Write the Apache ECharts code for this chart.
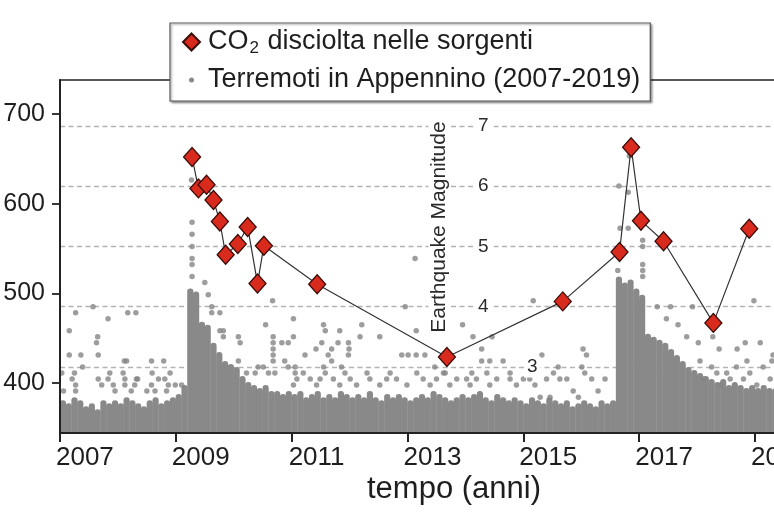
<!DOCTYPE html>
<html>
<head>
<meta charset="utf-8">
<script src="https://cdn.jsdelivr.net/npm/echarts@6/dist/echarts.min.js"></script>
<style>html,body{margin:0;padding:0;background:#fff}#c{width:774px;height:516px}</style>
</head>
<body>
<div id="c"></div>
<script>
// ---------------- DATA ----------------
const co2Name = 'CO2 disciolta nelle sorgenti';
const eqName = 'Terremoti in Appennino (2007-2019)';

// CO2 dissolved in springs (sampling date, value)
const co2Years = [2009.28, 2009.39, 2009.53, 2009.65, 2009.76, 2009.86, 2010.07, 2010.24, 2010.41, 2010.52,
                  2011.44, 2013.68, 2015.68, 2016.66, 2016.86, 2017.03, 2017.42, 2018.28, 2018.90];
const co2Values = [652, 617, 621, 604, 580, 543, 555, 574, 511, 553,
                   510, 429, 491, 546, 663, 581, 558, 467, 572];

// Dense part of the earthquake cloud: top magnitude of the filled band, one value per 0.1-year bin from 2007.0
const denseBandStart = 2007.0;
const denseBandStep = 0.1;
const denseBandTop = [
  2.45, 2.4, 2.5, 2.45, 2.35, 2.4, 2.3, 2.45, 2.4, 2.45,   // 2007
  2.4, 2.5, 2.45, 2.4, 2.35, 2.45, 2.5, 2.4, 2.45, 2.5,    // 2008
  2.55, 2.7, 4.3, 4.25, 3.75, 3.7, 3.4, 3.25, 3.1, 3.05,   // 2009
  3.0, 2.85, 2.75, 2.7, 2.65, 2.7, 2.6, 2.6, 2.55, 2.6,    // 2010
  2.55, 2.6, 2.5, 2.55, 2.6, 2.5, 2.55, 2.5, 2.6, 2.55,    // 2011
  2.5, 2.55, 2.5, 2.6, 2.5, 2.45, 2.55, 2.5, 2.55, 2.5,    // 2012
  2.45, 2.5, 2.55, 2.5, 2.6, 2.55, 2.5, 2.45, 2.5, 2.55,   // 2013
  2.5, 2.55, 2.6, 2.5, 2.45, 2.55, 2.5, 2.45, 2.5, 2.45,   // 2014
  2.4, 2.5, 2.45, 2.4, 2.5, 2.45, 2.4, 2.45, 2.35, 2.4,    // 2015
  2.45, 2.4, 2.35, 2.45, 2.4, 2.45, 4.5, 4.4, 4.45, 4.3,   // 2016
  4.2, 3.55, 3.5, 3.45, 3.4, 3.3, 3.2, 3.1, 3.0, 2.95,     // 2017
  2.9, 2.85, 2.8, 2.75, 2.8, 2.7, 2.75, 2.7, 2.65, 2.7,    // 2018
  2.65, 2.7, 2.65, 2.65                                    // 2019
];

// Individual earthquakes above the dense band [year, magnitude]
const quakePoints = [
  [2007.57,4.0],[2007.27,3.9],[2007.16,3.6],[2007.83,3.8],[2008.17,3.9],[2008.31,3.9],[2007.65,3.5],[2007.63,3.4],
  [2007.16,3.2],[2007.36,3.2],[2007.66,3.2],[2007.39,3.0],[2008.11,3.1],[2008.15,3.1],[2008.58,3.1],[2008.79,3.1],
  [2008.34,2.8],[2008.59,2.9],[2007.25,2.9],[2007.86,2.9],[2008.09,2.9],
  [2007.27,2.7],[2007.27,2.6],[2007.06,2.6],[2007.66,2.8],[2007.72,2.7],[2007.83,2.8],[2007.92,2.7],[2007.95,2.6],
  [2008.12,2.8],[2008.12,2.7],[2008.23,2.6],[2008.5,2.6],[2008.58,2.7],[2008.64,2.6],[2008.81,2.8],[2008.87,2.7],
  [2008.84,2.6],[2008.99,2.7],[2009.1,2.7],[2008.32,2.8],[2007.03,2.9],[2007.21,2.8],[2008.29,2.7],[2008.7,2.8],[2008.9,2.9],
  [2009.27,6.1],[2009.28,5.4],[2009.28,5.2],[2009.28,5.0],[2009.28,4.8],[2009.28,4.7],[2009.28,4.5],[2009.5,4.4],
  [2009.56,4.2],[2009.62,3.9],[2009.76,3.9],[2009.62,4.0],[2009.82,3.6],[2009.82,3.5],[2009.76,3.6],[2010.08,3.5],
  [2010.11,3.4],[2010.55,3.7],[2010.68,3.5],[2010.68,3.4],[2010.68,3.3],[2010.68,3.2],[2010.68,3.1],[2010.83,3.4],
  [2010.94,3.4],[2011.03,3.5],[2010.67,4.1],[2011.03,3.8],[2010.08,3.1],[2010.22,2.9],[2010.37,2.9],[2010.42,3.0],
  [2010.51,3.0],[2010.6,2.9],[2010.71,2.9],[2010.88,3.1],[2010.94,3.0],[2011.06,2.9],
  [2012.96,4.0],[2011.55,3.7],[2011.58,3.6],[2011.83,3.6],[2012.21,3.7],[2012.18,3.5],[2012.52,3.5],[2013.15,3.6],
  [2013.95,3.7],[2014.13,3.5],[2014.46,3.5],[2011.52,3.4],[2011.8,3.4],[2011.98,3.4],[2011.42,3.3],[2011.69,3.3],
  [2011.99,3.3],[2011.23,3.2],[2011.63,3.2],[2011.98,3.2],[2011.69,3.1],[2012.9,3.2],[2013.01,3.2],[2013.15,3.2],
  [2013.3,3.2],[2014.28,3.3],[2014.28,3.1],[2014.42,3.1],[2014.65,3.1],[2011.06,3.0],[2011.55,3.0],[2011.86,3.0],
  [2012.3,2.9],[2013.47,3.0],[2013.65,2.9],[2013.13,4.8],
  [2011.09,2.8],[2011.32,2.8],[2011.49,2.8],[2011.72,2.8],[2012.01,2.8],[2012.35,2.8],[2012.64,2.8],[2012.81,2.8],
  [2013.27,2.8],[2013.5,2.8],[2013.85,2.8],[2014.02,2.8],[2014.19,2.8],[2014.54,2.8],[2014.77,2.8],[2015.0,2.8],
  [2011.2,2.9],[2011.58,2.9],[2011.92,2.9],[2012.7,2.9],[2013.16,2.9],[2013.62,2.9],[2014.11,2.9],[2014.37,2.9],[2014.77,2.9],
  [2011.03,2.7],[2011.43,2.7],[2011.83,2.7],[2012.12,2.7],[2012.52,2.7],[2012.99,2.7],[2013.39,2.7],[2013.73,2.7],
  [2014.08,2.7],[2014.42,2.7],[2014.88,2.7],
  [2015.17,4.1],[2016.03,3.3],[2016.09,3.2],[2015.32,3.2],[2015.11,2.8],[2015.2,2.7],[2015.4,2.8],[2015.52,2.9],
  [2015.63,2.8],[2015.75,2.8],[2016.01,3.0],[2016.06,2.9],[2016.18,2.8],[2016.29,2.6],[2016.41,2.8],[2015.86,2.6],
  [2015.95,2.5],[2015.46,2.5],[2015.29,2.5],[2015.6,3.0],
  [2016.65,6.0],[2016.81,5.9],[2016.83,6.5],[2016.67,5.3],[2016.81,5.3],[2016.63,4.6],[2017.06,5.1],[2017.06,5.0],
  [2017.06,4.7],[2017.06,4.6],[2017.06,4.5],[2017.31,4.0],[2017.54,4.0],[2017.92,4.0],[2018.98,4.1],[2017.47,3.8],
  [2017.67,3.7],[2017.82,3.5],[2018.02,3.4],[2018.27,3.5],[2018.83,3.4],[2019.09,3.4],[2018.69,3.3],[2018.38,3.3],
  [2019.31,3.2],[2018.05,3.1],[2018.25,3.0],[2018.34,2.9],[2018.51,2.9],[2018.68,3.0],[2018.86,3.1],[2018.91,2.9],
  [2019.14,3.0],[2019.29,3.1],[2018.11,2.8],[2018.4,2.7],[2018.57,2.8],[2018.8,2.8],[2019.03,2.7],[2019.26,2.8]
];

// Tick labels
const yearTicks = [2007, 2009, 2011, 2013, 2015, 2017, 2019];
const co2Ticks = [400, 500, 600, 700];
const magTicks = [3, 4, 5, 6, 7];

// ---------------- CHART ----------------
const FONT = '"Liberation Sans", Arial, sans-serif';
const xMin = 2007, xMax = 2020.363;
const labelShift = 0.43;

const co2Data = co2Years.map((y, i) => [y, co2Values[i]]);
const denseBars = denseBandTop.map((m, i) => [denseBandStart + (i + 0.5) * denseBandStep, m]);

const chart = echarts.init(document.getElementById('c'), null, {renderer: 'canvas', width: 774, height: 516});

const option = {
  animation: false,
  backgroundColor: '#ffffff',
  grid: {
    left: 60, right: -60, top: 80, bottom: 83,
    show: true, borderColor: '#222', borderWidth: 1.5, backgroundColor: 'transparent',
    containLabel: false, outerBoundsMode: 'none'
  },
  legend: {
    orient: 'vertical', left: 170, top: 23,
    padding: [4, 10, 6, 12], itemGap: 8, itemWidth: 17, itemHeight: 17,
    backgroundColor: '#fff', borderColor: '#555', borderWidth: 1.2,
    shadowColor: 'rgba(0,0,0,0.35)', shadowBlur: 2, shadowOffsetX: 1.5, shadowOffsetY: 1.5,
    selectedMode: false,
    textStyle: {
      fontSize: 27, fontFamily: FONT, color: '#1e1e1e', lineHeight: 30,
      rich: {
        t: {fontSize: 27, fontFamily: FONT, color: '#1e1e1e', lineHeight: 30, padding: [0, 0, 0, 3]},
        n: {fontSize: 27, fontFamily: FONT, color: '#1e1e1e', lineHeight: 30},
        sub: {fontSize: 17, fontFamily: FONT, color: '#1e1e1e', lineHeight: 30, verticalAlign: 'bottom', padding: [10, 1, 0, 1]}
      }
    },
    formatter: function (name) {
      if (name === co2Name) return '{t|CO}{sub|2}{n| disciolta nelle sorgenti}';
      return '{t|' + name + '}';
    },
    data: [
      {name: co2Name, icon: 'diamond'},
      {name: eqName, icon: 'path://M0,0M17,17M11,8.5A2.5,2.5,0,1,1,6,8.5A2.5,2.5,0,1,1,11,8.5Z'}
    ]
  },
  xAxis: [
    {
      type: 'value', min: xMin, max: xMax, position: 'bottom', z: 4,
      axisLine: {show: true, onZero: false, lineStyle: {color: '#222', width: 2}},
      axisTick: {show: true, customValues: yearTicks, length: 9, inside: false, lineStyle: {color: '#222', width: 2}},
      axisLabel: {show: false},
      splitLine: {show: false}
    },
    {
      type: 'value', min: xMin - labelShift, max: xMax - labelShift, position: 'bottom', z: 4,
      axisLine: {show: false}, axisTick: {show: false}, splitLine: {show: false},
      axisLabel: {
        show: true, customValues: yearTicks, margin: 12,
        fontSize: 26, fontFamily: FONT, color: '#1e1e1e',
        formatter: v => String(v)
      }
    }
  ],
  yAxis: [
    {
      type: 'value', min: 344.2, max: 737.9, position: 'left', z: 4,
      axisLine: {show: true, onZero: false, lineStyle: {color: '#222', width: 2}},
      axisTick: {show: true, customValues: co2Ticks, length: 8, lineStyle: {color: '#222', width: 1.8}},
      axisLabel: {customValues: co2Ticks, margin: 15, fontSize: 25, fontFamily: FONT, color: '#1e1e1e', formatter: v => String(v)},
      splitLine: {show: false}
    },
    {
      type: 'value', min: 1.905, max: 7.76, position: 'right', offset: -361, z: 3,
      axisLine: {show: false}, axisTick: {show: false}, splitLine: {show: false},
      axisLabel: {
        customValues: magTicks, margin: 0,
        formatter: v => (v === 3 ? '{sp| }{b|3}' : '{a|' + v + '}'),
        rich: {
          a: {fontSize: 19, fontFamily: FONT, color: '#2a2a2a', backgroundColor: '#fff', padding: [1, 5, 1, 5]},
          b: {fontSize: 19, fontFamily: FONT, color: '#2a2a2a', backgroundColor: '#fff', padding: [1, 3, 1, 3]},
          sp: {width: 51, fontSize: 19}
        }
      }
    }
  ],
  graphic: [
    {
      type: 'text', x: 454, y: 489, z: 10,
      style: {text: 'tempo (anni)', font: '31px ' + FONT, fill: '#1e1e1e', align: 'center', verticalAlign: 'middle'}
    },
    {
      type: 'text', x: 439, y: 227, rotation: Math.PI / 2, z: 10,
      style: {text: 'Earthquake Magnitude', font: '21px ' + FONT, fill: '#2a2a2a', align: 'center', verticalAlign: 'middle',
              backgroundColor: '#fff', padding: [0, 2, 0, 2]}
    }
  ],
  series: [
    {
      name: eqName, type: 'bar', xAxisIndex: 0, yAxisIndex: 1,
      data: denseBars, barWidth: 6.2, z: 2, silent: true, clip: true,
      itemStyle: {color: '#898989', borderRadius: [3, 3, 0, 0]},
      emphasis: {disabled: true},
      markLine: {
        silent: true, symbol: 'none', z: 1, animation: false,
        label: {show: false},
        lineStyle: {color: '#b3b3b3', type: [5, 3.5], width: 1.3},
        emphasis: {disabled: true},
        data: magTicks.map(m => ({yAxis: m}))
      }
    },
    {
      name: eqName, type: 'scatter', xAxisIndex: 0, yAxisIndex: 1,
      data: quakePoints, symbol: 'circle', symbolSize: 5.5, z: 2, silent: true, clip: true,
      itemStyle: {color: '#858585'},
      emphasis: {disabled: true}
    },
    {
      name: co2Name, type: 'line', xAxisIndex: 0, yAxisIndex: 0,
      data: co2Data, symbol: 'diamond', symbolSize: [17, 19], z: 5, silent: true,
      lineStyle: {color: '#333', width: 1.2},
      itemStyle: {color: '#d92a1e', borderColor: '#3a0c08', borderWidth: 1.3},
      emphasis: {disabled: true}
    }
  ]
};

chart.setOption(option);
</script>
</body>
</html>
